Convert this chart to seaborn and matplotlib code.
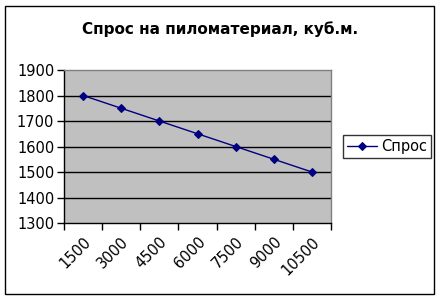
import matplotlib
matplotlib.use("Agg")
import matplotlib.pyplot as plt
import matplotlib.transforms as mtransforms
import seaborn as sns
import pandas as pd
from matplotlib.patches import Rectangle

categories = ["1500", "3000", "4500", "6000", "7500", "9000", "10500"]
values = [1800, 1750, 1700, 1650, 1600, 1550, 1500]
series_name = "Спрос"
title = "Спрос на пиломатериал, куб.м."
y_ticks = [1300, 1400, 1500, 1600, 1700, 1800, 1900]

sns.set_style("white")
plt.rcParams['font.family'] = ['DejaVu Sans']
plt.rcParams['text.color'] = 'black'
plt.rcParams['xtick.color'] = 'black'
plt.rcParams['ytick.color'] = 'black'

df = pd.DataFrame({"x": list(range(len(categories))), "y": values, "s": series_name})

fig = plt.figure(figsize=(4.4, 3.0), dpi=100)
fig.patch.set_facecolor("white")
ax = fig.add_axes([64/440, 1-223/300, (331-64)/440, (223-70)/300])
ax.set_facecolor("#c0c0c0")

sns.lineplot(data=df, x="x", y="y", hue="s", palette=["#000080"], marker="D",
             markersize=4.5, linewidth=1.0, markeredgecolor="#000080", ax=ax)

ax.set_xlim(-0.5, len(categories) - 0.5)
ax.set_ylim(1300, 1900)
ax.set_yticks(y_ticks)
ax.set_yticklabels([str(v) for v in y_ticks], fontsize=10.5)
for v in y_ticks[1:-1]:
    ax.axhline(v, color="black", linewidth=1.0, zorder=0.5)

ax.set_xticks(range(len(categories)))
ax.set_xticklabels(categories, fontsize=10.5, rotation=45, ha="right", rotation_mode="anchor")
offset = mtransforms.ScaledTranslation(-4/100, 0, fig.dpi_scale_trans)
for lbl in ax.get_xticklabels():
    lbl.set_transform(lbl.get_transform() + offset)
ax.tick_params(axis="x", which="major", length=0, pad=8)
ax.set_xticks([i - 0.5 for i in range(len(categories) + 1)], minor=True)
ax.tick_params(axis="x", which="minor", length=5, width=1, color="black", direction="out", bottom=True)
ax.tick_params(axis="y", which="major", length=5, width=1, color="black", direction="out", left=True, pad=2)
ax.set_xlabel("")
ax.set_ylabel("")

for side in ["top", "right"]:
    ax.spines[side].set_color("#808080")
    ax.spines[side].set_linewidth(1.0)
for side in ["left", "bottom"]:
    ax.spines[side].set_color("black")
    ax.spines[side].set_linewidth(1.0)

leg = ax.legend(loc="center left", bbox_to_anchor=(343/440, 1-146.5/300),
                bbox_transform=fig.transFigure, fontsize=10.5, frameon=True,
                fancybox=False, edgecolor="black", handlelength=2.0,
                borderpad=0.3, handletextpad=0.3, borderaxespad=0)
leg.get_frame().set_linewidth(1.0)
for t in leg.get_texts():
    t.set_color("black")

fig.text(220/440, 1-29/300, title, ha="center", va="center",
         fontsize=11, fontweight="bold", color="black")

fig.patches.append(Rectangle((5/440, 6/300), (434-5)/440, (294-6)/300,
                             transform=fig.transFigure, fill=False,
                             edgecolor="black", linewidth=1.0))

fig.savefig("out.png", dpi=100, facecolor="white")
